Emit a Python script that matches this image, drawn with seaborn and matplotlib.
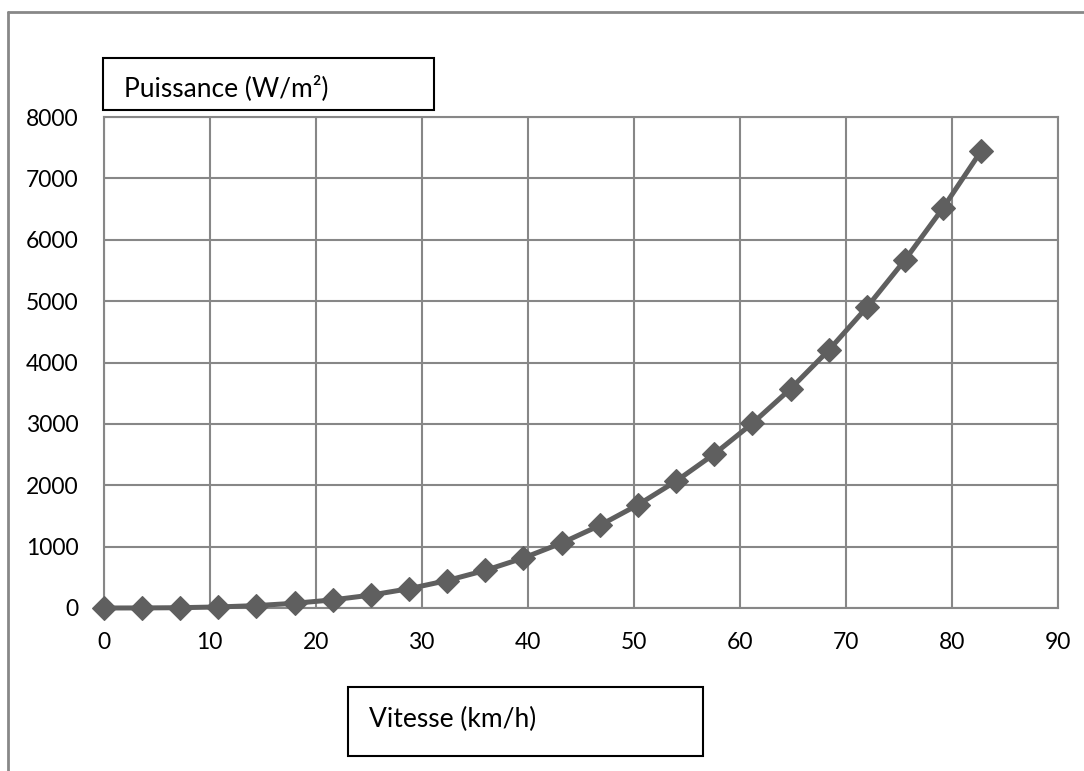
import matplotlib
matplotlib.use("Agg")
import matplotlib.pyplot as plt
from matplotlib.patches import Rectangle
from matplotlib.lines import Line2D
import seaborn as sns
import pandas as pd

# Wind speed (km/h) and available wind power density (W/m²)
vitesse = [0.0, 3.6, 7.2, 10.8, 14.4, 18.0, 21.6, 25.2, 28.8, 32.4, 36.0, 39.6,
           43.2, 46.8, 50.4, 54.0, 57.6, 61.2, 64.8, 68.4, 72.0, 75.6, 79.2, 82.8]
puissance = [0, 1, 5, 17, 39, 77, 132, 210, 314, 447, 613, 815,
             1058, 1346, 1681, 2067, 2509, 3009, 3572, 4201, 4900, 5673, 6522, 7452]

x_ticks = [0, 10, 20, 30, 40, 50, 60, 70, 80, 90]
y_ticks = [0, 1000, 2000, 3000, 4000, 5000, 6000, 7000, 8000]

df = pd.DataFrame({"Vitesse": vitesse, "Puissance": puissance})

sns.set_style("white")
plt.rcParams["font.family"] = ["Lato", "DejaVu Sans"]

W, H = 1084, 771
fig = plt.figure(figsize=(W / 100, H / 100), dpi=100)
fig.patch.set_facecolor("white")

grid_col = "#878787"
line_col = "#5f5f5f"

# Axes placed in pixel coordinates of the plot area
left, right, top, bottom = 103.7, 1057.7, 117.0, 608.0
ax = fig.add_axes([left / W, 1 - bottom / H, (right - left) / W, (bottom - top) / H])

sns.lineplot(data=df, x="Vitesse", y="Puissance", ax=ax, color=line_col,
             linewidth=3.6, marker="D", markersize=12.5, markeredgecolor=line_col,
             markeredgewidth=0.8, clip_on=False, zorder=5)

ax.set_xlim(0, 90)
ax.set_ylim(0, 8000)
ax.set_xticks(x_ticks)
ax.set_yticks(y_ticks)
ax.set_xticklabels([str(v) for v in x_ticks])
ax.set_yticklabels([str(v) for v in y_ticks])
ax.tick_params(axis="both", length=0, labelsize=16.5, colors="black")
ax.tick_params(axis="x", pad=17)
ax.tick_params(axis="y", pad=18)
ax.set_xlabel("")
ax.set_ylabel("")
ax.grid(True, color=grid_col, linewidth=1.5)
for s in ax.spines.values():
    s.set_visible(True)
    s.set_color(grid_col)
    s.set_linewidth(1.5)

# Chart frame (left and top edges)
fig.add_artist(Line2D([8 / W, 8 / W], [0, 1 - 12 / H], transform=fig.transFigure,
                      color="#888888", linewidth=2))
fig.add_artist(Line2D([8 / W, 1], [1 - 12 / H, 1 - 12 / H], transform=fig.transFigure,
                      color="#888888", linewidth=2))

# Axis title boxes
def title_box(x0, y0, x1, y1, tx, ty, label):
    fig.add_artist(Rectangle((x0 / W, 1 - y1 / H), (x1 - x0) / W, (y1 - y0) / H,
                             transform=fig.transFigure, facecolor="white",
                             edgecolor="black", linewidth=1.5))
    fig.text(tx / W, 1 - ty / H, label, fontsize=19, ha="left", va="center", color="black")

title_box(102.7, 58, 434, 110, 124, 88, "Puissance (W/m²)")
title_box(347.7, 686.7, 703, 756, 369, 719, "Vitesse (km/h)")

fig.savefig("out.png", dpi=100, facecolor="white")
